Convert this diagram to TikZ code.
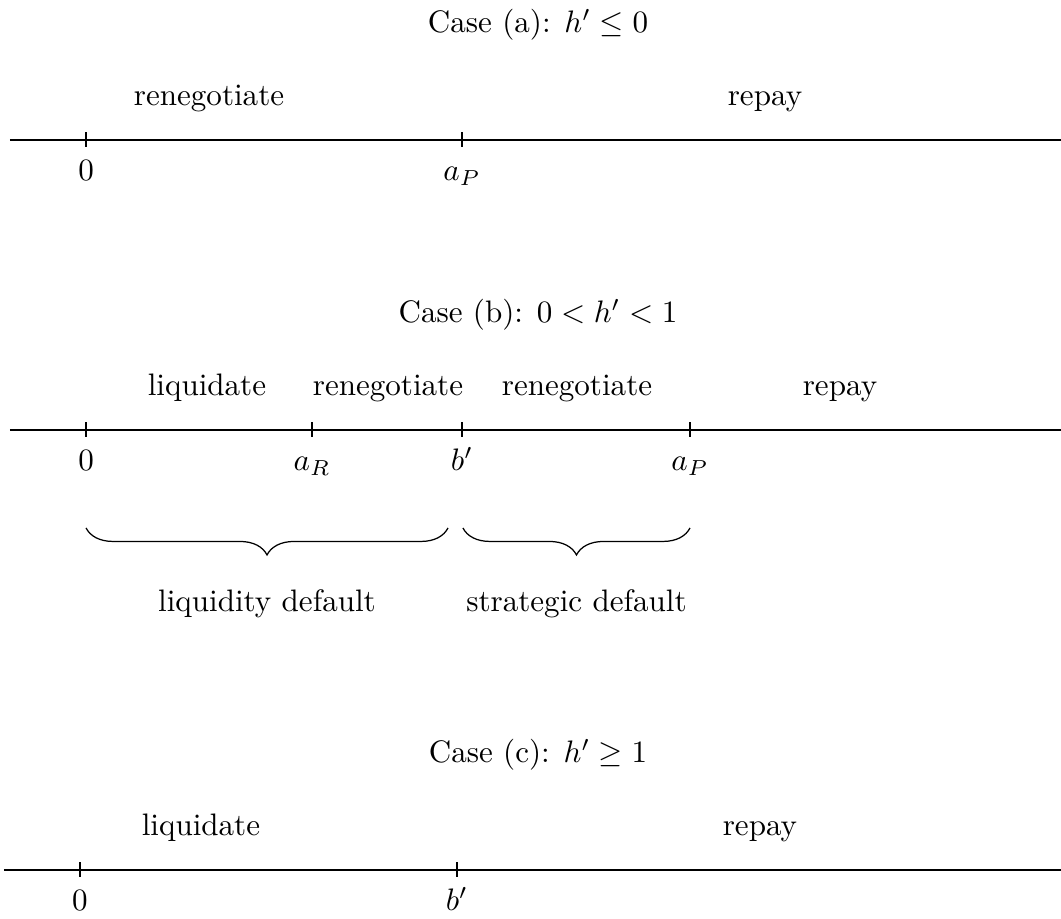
\documentclass[tikz,border=0pt]{standalone}
\usetikzlibrary{decorations.pathreplacing}
\tikzset{
  axisline/.style={line width=0.4pt},
  tickmark/.style={line width=0.4pt},
  ticklabel/.style={anchor=base, inner sep=0pt, yshift=-0.46cm},
  regionlabel/.style={anchor=base, inner sep=0pt},
  casetitle/.style={anchor=base, inner sep=0pt},
  bracelabel/.style={anchor=base, inner sep=0pt},
  bracket/.style={decorate, decoration={brace, mirror, amplitude=8.7pt}},
}
\begin{document}
\begin{tikzpicture}[x=1cm,y=1cm]
\useasboundingbox (0,0) rectangle (12,-10.383);

% ---------------- Case (a)
\coordinate (aL) at (0.113,-1.583);
\coordinate (aR) at (12.0,-1.583);
\draw[axisline] (aL) -- (aR);
\coordinate (a0) at (0.973,-1.583);
\coordinate (aP) at (5.225,-1.583);
\foreach \t in {a0,aP}{\draw[tickmark] ([yshift=0.085cm]\t) -- ([yshift=-0.085cm]\t);}
\node[ticklabel] (a0l) at (a0) {$0$};
\node[ticklabel] (aPl) at (aP) {$a_P$};
\node[casetitle] (atitle) at (6.085,-0.373) {Case (a): $h' \le 0$};
\node[regionlabel] (areneg) at (2.364,-1.198) {renegotiate};
\node[regionlabel] (arepay) at (8.652,-1.198) {repay};

% ---------------- Case (b)
\coordinate (bL) at (0.113,-4.863);
\coordinate (bR) at (12.0,-4.863);
\draw[axisline] (bL) -- (bR);
\coordinate (b0) at (0.973,-4.863);
\coordinate (bR0) at (3.529,-4.863);
\coordinate (bb) at (5.225,-4.863);
\coordinate (bP) at (7.804,-4.863);
\foreach \t in {b0,bR0,bb,bP}{\draw[tickmark] ([yshift=0.085cm]\t) -- ([yshift=-0.085cm]\t);}
\node[ticklabel] (b0l) at (b0) {$0$};
\node[ticklabel] (bRl) at (bR0) {$a_R$};
\node[ticklabel] (bbl) at (bb) {$b'$};
\node[ticklabel] (bPl) at (bP) {$a_P$};
\node[casetitle] (btitle) at (6.085,-3.653) {Case (b): $0 < h' < 1$};
\node[regionlabel] (bliq) at (2.341,-4.478) {liquidate};
\node[regionlabel] (breneg1) at (4.388,-4.478) {renegotiate};
\node[regionlabel] (breneg2) at (6.526,-4.478) {renegotiate};
\node[regionlabel] (brepay) at (9.500,-4.478) {repay};
% braces
\coordinate (br1s) at (0.973,-5.971);
\coordinate (br1e) at (5.067,-5.971);
\coordinate (br2s) at (5.236,-5.971);
\coordinate (br2e) at (7.804,-5.971);
\draw[bracket] (br1s) -- (br1e);
\draw[bracket] (br2s) -- (br2e);
\node[bracelabel] (liqdef) at (3.020,-6.921) {liquidity default};
\node[bracelabel] (stratdef) at (6.520,-6.921) {strategic default};

% ---------------- Case (c)
\coordinate (cL) at (0.045,-9.839);
\coordinate (cR) at (12.0,-9.839);
\draw[axisline] (cL) -- (cR);
\coordinate (c0) at (0.905,-9.839);
\coordinate (cb) at (5.168,-9.839);
\foreach \t in {c0,cb}{\draw[tickmark] ([yshift=0.085cm]\t) -- ([yshift=-0.085cm]\t);}
\node[ticklabel] (c0l) at (c0) {$0$};
\node[ticklabel] (cbl) at (cb) {$b'$};
\node[casetitle] (ctitle) at (6.085,-8.629) {Case (c): $h' \ge 1$};
\node[regionlabel] (cliq) at (2.273,-9.454) {liquidate};
\node[regionlabel] (crepay) at (8.595,-9.454) {repay};
\end{tikzpicture}
\end{document}
